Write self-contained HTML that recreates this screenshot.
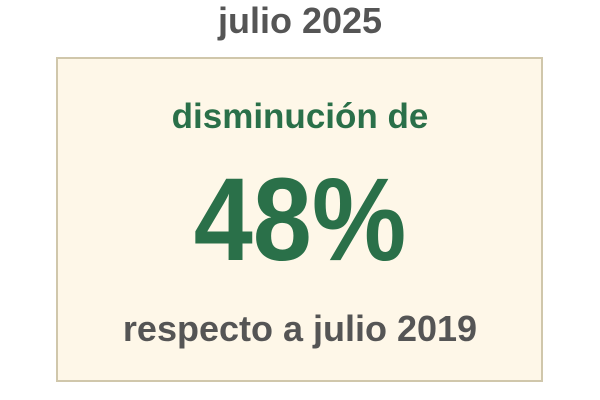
<!DOCTYPE html>
<html><head><meta charset="utf-8"><style>
body{margin:0;width:600px;height:400px;background:#fff;font-family:"Liberation Sans",sans-serif;font-weight:bold;position:relative;overflow:hidden}
.t{position:absolute;left:0;width:600px;text-align:center;white-space:nowrap}
</style></head><body>
<div class="t" style="top:0px;font-size:36px;color:#555;">julio 2025</div>
<div style="position:absolute;left:56px;top:57px;width:483px;height:321px;border:2px solid #d0c7ab;background:#fef7e8;"></div>
<div class="t" style="top:97px;font-size:35px;color:#2a7049;">disminución de</div>
<div class="t" style="top:160px;font-size:118px;line-height:120px;color:#2a7049;transform:scaleX(0.9);">48%</div>
<div class="t" style="top:308px;font-size:36px;color:#555;">respecto a julio 2019</div>
</body></html>
